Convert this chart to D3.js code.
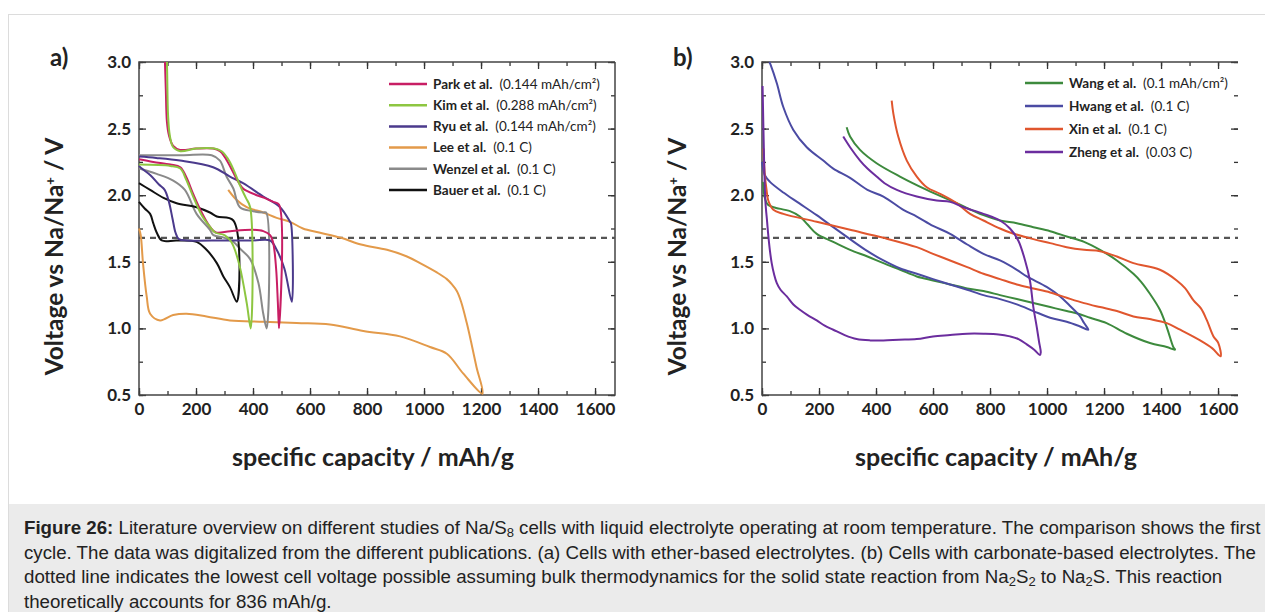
<!DOCTYPE html>
<html>
<head>
<meta charset="utf-8">
<script src="https://cdn.jsdelivr.net/npm/d3@7"></script>
<style>
  body { margin: 0; background: #fff; }
  svg { display: block; }
</style>
</head>
<body>
<svg id="chart"></svg>
<script>
// ---- data (specific capacity mAh/g, voltage V) ----
// panel a : ether-based electrolytes
const namesA = ["Park et al.", "Kim et al.", "Ryu et al.", "Lee et al.", "Wenzel et al.", "Bauer et al."];
const ratesA = ["(0.144 mAh/cm²)", "(0.288 mAh/cm²)", "(0.144 mAh/cm²)", "(0.1 C)", "(0.1 C)", "(0.1 C)"];

const parkPts = [[0,2.27],[50,2.25],[110,2.23],[145,2.21],[165,2.14],[190,2.01],[220,1.87],[250,1.76],[270,1.72],[320,1.73],[400,1.74],[436,1.73],[460,1.70],[471,1.64],[481,1.45],[487,1.2],[491,1.0],[491,1.93],[471,1.95],[440,1.98],[413,2.0],[380,2.03],[365,2.05],[343,2.12],[319,2.22],[300,2.29],[284,2.33],[260,2.35],[200,2.35],[144,2.34],[120,2.37],[105,2.45],[98,2.55],[94,2.8],[91,3.0]];
const kimPts = [[0,2.23],[110,2.22],[145,2.2],[165,2.12],[190,1.99],[220,1.85],[250,1.76],[267,1.72],[300,1.70],[320,1.66],[331,1.62],[354,1.46],[378,1.19],[392,1.0],[390,1.91],[375,1.98],[355,2.07],[330,2.2],[310,2.28],[290,2.33],[265,2.35],[200,2.35],[145,2.33],[120,2.36],[108,2.45],[102,2.6],[99,2.9],[98,3.0]];
const ryuPts = [[0,2.22],[10,2.2],[40,2.15],[70,2.08],[90,2.04],[105,1.95],[118,1.82],[128,1.72],[140,1.67],[170,1.66],[300,1.66],[400,1.66],[460,1.66],[483,1.59],[510,1.45],[536,1.2],[533,1.79],[530,1.80],[495,1.91],[436,1.99],[365,2.09],[319,2.14],[260,2.21],[144,2.26],[60,2.28],[0,2.29]];
const leePts = [[0,1.75],[6,1.7],[14,1.49],[27,1.24],[39,1.11],[74,1.06],[120,1.10],[167,1.11],[237,1.09],[319,1.06],[436,1.05],[553,1.04],[670,1.03],[787,0.98],[916,0.94],[1021,0.86],[1080,0.81],[1138,0.66],[1205,0.51],[1184,0.71],[1165,0.9],[1150,1.04],[1130,1.2],[1115,1.28],[1098,1.33],[1080,1.37],[1045,1.42],[986,1.49],[940,1.54],[870,1.59],[779,1.63],[709,1.68],[632,1.72],[575,1.75],[530,1.80],[483,1.83],[436,1.87],[378,1.91],[340,1.97],[313,2.04]];
const wenzelPts = [[0,2.2],[62,2.16],[120,2.11],[161,2.04],[202,1.86],[249,1.74],[261,1.70],[300,1.68],[331,1.65],[354,1.60],[390,1.52],[419,1.34],[436,1.11],[448,1.0],[446,1.87],[436,1.87],[400,1.88],[354,1.91],[331,2.05],[307,2.14],[284,2.26],[255,2.30],[150,2.30],[0,2.30]];
const bauerPts = [[0,1.95],[20,1.9],[39,1.86],[50,1.79],[62,1.72],[80,1.66],[132,1.66],[202,1.65],[237,1.59],[273,1.49],[296,1.39],[319,1.31],[343,1.2],[331,1.81],[273,1.84],[249,1.87],[202,1.91],[132,1.94],[86,1.98],[39,2.04],[0,2.09]];

// panel b : carbonate-based electrolytes
const namesB = ["Wang et al.", "Hwang et al.", "Xin et al.", "Zheng et al."];
const ratesB = ["(0.1 mAh/cm²)", "(0.1 C)", "(0.1 C)", "(0.03 C)"];

const wangPts = [[3,2.1],[10,1.98],[20,1.93],[40,1.91],[98,1.88],[133,1.84],[160,1.78],[192,1.71],[250,1.65],[309,1.59],[370,1.54],[426,1.49],[485,1.44],[543,1.39],[600,1.36],[660,1.33],[720,1.30],[777,1.28],[835,1.25],[894,1.22],[952,1.19],[1011,1.16],[1069,1.13],[1110,1.11],[1151,1.08],[1209,1.04],[1280,0.96],[1361,0.89],[1420,0.86],[1449,0.84],[1443,0.86],[1420,1.01],[1396,1.14],[1361,1.26],[1330,1.35],[1303,1.41],[1245,1.51],[1186,1.59],[1130,1.65],[1069,1.69],[1011,1.73],[952,1.76],[894,1.79],[835,1.81],[777,1.85],[683,1.94],[578,2.04],[484,2.14],[402,2.24],[344,2.34],[309,2.44],[297,2.51]];
const hwangPts = [[0,2.25],[10,2.15],[28,2.1],[75,2.02],[130,1.94],[192,1.85],[250,1.76],[309,1.67],[370,1.58],[426,1.51],[485,1.45],[543,1.41],[600,1.37],[660,1.33],[720,1.29],[777,1.25],[835,1.22],[894,1.18],[952,1.13],[1011,1.08],[1069,1.05],[1110,1.02],[1145,0.99],[1130,1.04],[1116,1.09],[1080,1.17],[1046,1.24],[1000,1.31],[929,1.39],[894,1.44],[835,1.51],[777,1.56],[720,1.63],[660,1.71],[600,1.77],[543,1.84],[496,1.89],[426,1.99],[370,2.04],[309,2.13],[250,2.2],[215,2.26],[157,2.36],[110,2.49],[75,2.66],[52,2.84],[30,2.98],[26,3.0]];
const xinPts = [[5,2.35],[10,2.15],[16,2.04],[22,1.96],[40,1.89],[75,1.86],[192,1.80],[309,1.74],[426,1.68],[543,1.61],[600,1.56],[660,1.51],[720,1.46],[777,1.41],[835,1.37],[894,1.33],[952,1.30],[1011,1.27],[1069,1.23],[1130,1.19],[1186,1.16],[1245,1.13],[1303,1.09],[1360,1.07],[1420,1.04],[1467,0.99],[1537,0.91],[1580,0.85],[1609,0.79],[1601,0.89],[1584,0.94],[1561,1.06],[1540,1.15],[1514,1.21],[1485,1.30],[1455,1.36],[1396,1.44],[1303,1.49],[1245,1.54],[1186,1.58],[1130,1.59],[1069,1.61],[1011,1.64],[952,1.67],[870,1.72],[835,1.75],[777,1.81],[730,1.86],[683,1.94],[625,2.01],[578,2.06],[543,2.14],[508,2.26],[478,2.44],[461,2.61],[455,2.71]];
const zhengPts = [[2,2.82],[5,2.5],[8,2.2],[12,1.95],[18,1.8],[22,1.7],[28,1.58],[34,1.49],[42,1.41],[52,1.34],[65,1.29],[87,1.24],[110,1.18],[133,1.14],[160,1.10],[192,1.06],[220,1.02],[250,0.99],[290,0.95],[332,0.92],[380,0.91],[426,0.91],[480,0.915],[543,0.92],[600,0.94],[660,0.95],[720,0.96],[777,0.96],[830,0.955],[870,0.94],[900,0.92],[929,0.88],[955,0.84],[975,0.80],[978,0.82],[972,0.9],[964,1.01],[952,1.16],[940,1.36],[923,1.51],[899,1.66],[870,1.75],[835,1.81],[777,1.86],[707,1.91],[660,1.95],[613,1.96],[543,1.99],[473,2.04],[430,2.09],[402,2.14],[370,2.2],[344,2.26],[309,2.36],[285,2.44]];

const xTicks = [0, 200, 400, 600, 800, 1000, 1200, 1400, 1600];
const yTicks = [0.5, 1.0, 1.5, 2.0, 2.5, 3.0];
const limitVoltage = 1.68;

// styles
const colorsA = ["#c81e64", "#8dc641", "#4b3a8c", "#e39a4a", "#8a8a8a", "#111111"];
const colorsB = ["#3d8a3d", "#4b4ba3", "#e0562e", "#6b2d9e"];
const drawOrderA = [3, 4, 5, 2, 0, 1];

const width = 1265;
const height = 612;
const plotTop = 62, plotBottom = 395;
const font = "Lato, 'Open Sans', sans-serif";

let svg = d3.select("#chart").attr("width", width).attr("height", height);

// frame + caption box
svg.append("rect").attr("x", 8.5).attr("y", 14.5).attr("width", width).attr("height", height)
  .attr("fill", "none").attr("stroke", "#dcdcdc");
svg.append("rect").attr("x", 9).attr("y", 504).attr("width", width - 9).attr("height", height - 504)
  .attr("fill", "#ebebeb");

function drawPanel(left, right, label, series, names, rates, colors, order, legendX, legendY, legendGap, rightBorder) {
  let xScale = d3.scaleLinear().domain([0, 1670]).range([left, right]);
  let yScale = d3.scaleLinear().domain([0.5, 3.0]).range([plotBottom, plotTop]);
  let g = svg.append("g");

  // minor ticks
  let minorX = d3.range(0, 1700, 100);
  let minorY = d3.range(0.5, 3.01, 0.25);
  g.append("g").attr("transform", "translate(0," + plotBottom + ")")
    .call(d3.axisBottom(xScale).tickValues(minorX).tickSize(-4).tickFormat(""));
  g.append("g").attr("transform", "translate(0," + plotTop + ")")
    .call(d3.axisTop(xScale).tickValues(minorX).tickSize(-4).tickFormat(""));
  g.append("g").attr("transform", "translate(" + left + ",0)")
    .call(d3.axisLeft(yScale).tickValues(minorY).tickSize(-4).tickFormat(""));
  g.append("g").attr("transform", "translate(" + right + ",0)")
    .call(d3.axisRight(yScale).tickValues(minorY).tickSize(-4).tickFormat(""));

  // major ticks + labels
  g.append("g").attr("transform", "translate(0," + plotBottom + ")")
    .call(d3.axisBottom(xScale).tickValues(xTicks).tickSize(-7).tickPadding(8).tickFormat(d3.format("d")));
  g.append("g").attr("transform", "translate(" + left + ",0)")
    .call(d3.axisLeft(yScale).tickValues(yTicks).tickSize(-7).tickPadding(8).tickFormat(d3.format(".1f")));
  g.append("g").attr("transform", "translate(0," + plotTop + ")")
    .call(d3.axisTop(xScale).tickValues(xTicks).tickSize(-7).tickFormat(""));
  g.append("g").attr("transform", "translate(" + right + ",0)")
    .call(d3.axisRight(yScale).tickValues(yTicks).tickSize(-7).tickFormat(""));

  g.selectAll(".domain").remove();
  g.selectAll(".tick line").attr("stroke", "#333").attr("stroke-width", 1.3);
  g.selectAll(".tick text").attr("font-family", font).attr("font-weight", 700)
    .attr("font-size", 17).attr("fill", "#222");

  // frame
  let frame = "M" + right + "," + plotTop + "H" + left + "V" + plotBottom + "H" + right;
  if (rightBorder) frame += "V" + plotTop;
  g.append("path").attr("d", frame).attr("fill", "none").attr("stroke", "#444").attr("stroke-width", 1.5);

  // dashed limit
  g.append("line").attr("x1", left).attr("x2", right)
    .attr("y1", yScale(limitVoltage)).attr("y2", yScale(limitVoltage))
    .attr("stroke", "#555").attr("stroke-width", 2.2).attr("stroke-dasharray", "6,5");

  // curves
  let line = d3.line().curve(d3.curveCatmullRom.alpha(0.5))
    .x(d => xScale(d[0])).y(d => yScale(d[1]));
  order.forEach(i => {
    g.append("path").datum(series[i]).attr("d", line)
      .attr("fill", "none").attr("stroke", colors[i]).attr("stroke-width", 2)
      .attr("stroke-linejoin", "round");
  });

  // legend
  names.forEach((n, i) => {
    let yy = legendY + i * legendGap;
    g.append("line").attr("x1", legendX).attr("x2", legendX + 38).attr("y1", yy).attr("y2", yy)
      .attr("stroke", colors[i]).attr("stroke-width", 2.5);
    let t = g.append("text").attr("x", legendX + 44).attr("y", yy + 4.8)
      .attr("font-family", font).attr("font-size", 13.5).attr("fill", "#222");
    t.append("tspan").attr("font-weight", 700).text(n);
    t.append("tspan").attr("dx", 7).text(rates[i]);
  });

  // panel label
  svg.append("text").attr("x", left - 89).attr("y", 66).text(label)
    .attr("font-family", font).attr("font-weight", 700).attr("font-size", 24).attr("fill", "#222");

  // axis titles
  let yt = svg.append("text")
    .attr("transform", "translate(" + (left - 76) + "," + ((plotTop + plotBottom) / 2 + 28) + ") rotate(-90)")
    .attr("text-anchor", "middle").attr("font-family", font).attr("font-weight", 700)
    .attr("font-size", 24.5).attr("fill", "#222");
  yt.append("tspan").text("Voltage vs  Na/Na");
  yt.append("tspan").attr("baseline-shift", "super").attr("font-size", 13).text("+");
  yt.append("tspan").text(" / V");

  svg.append("text").attr("x", (left + right) / 2 - 4).attr("y", 466)
    .attr("text-anchor", "middle").attr("font-family", font).attr("font-weight", 700)
    .attr("font-size", 25).attr("fill", "#222").text("specific capacity / mAh/g");
}

drawPanel(139, 615, "a)", [parkPts, kimPts, ryuPts, leePts, wenzelPts, bauerPts],
  namesA, ratesA, colorsA, drawOrderA, 389, 84, 21.2, true);
drawPanel(762, 1238, "b)", [wangPts, hwangPts, xinPts, zhengPts],
  namesB, ratesB, colorsB, [0, 1, 2, 3], 1025, 83, 23, false);

// caption
const captionLines = [
  [["b", "Figure 26:"], ["n", " Literature overview on different studies of Na/S"], ["s", "8"], ["n", " cells with liquid electrolyte operating at room temperature. The comparison shows the first"]],
  [["n", "cycle. The data was digitalized from the different publications. (a) Cells with ether-based electrolytes. (b) Cells with carbonate-based electrolytes. The"]],
  [["n", "dotted line indicates the lowest cell voltage possible assuming bulk thermodynamics for the solid state reaction from Na"], ["s", "2"], ["n", "S"], ["s", "2"], ["n", " to Na"], ["s", "2"], ["n", "S. This reaction"]],
  [["n", "theoretically accounts for 836 mAh/g."]]
];
captionLines.forEach((parts, i) => {
  let t = svg.append("text").attr("x", 24).attr("y", 534 + i * 24.5)
    .attr("font-family", "'Liberation Sans', Arial, sans-serif").attr("font-size", 18.7).attr("fill", "#222");
  parts.forEach(p => {
    let s = t.append("tspan").text(p[1]);
    if (p[0] === "b") s.attr("font-weight", 700);
    if (p[0] === "s") s.attr("font-size", 13).attr("baseline-shift", -3);
  });
});
</script>
</body>
</html>
